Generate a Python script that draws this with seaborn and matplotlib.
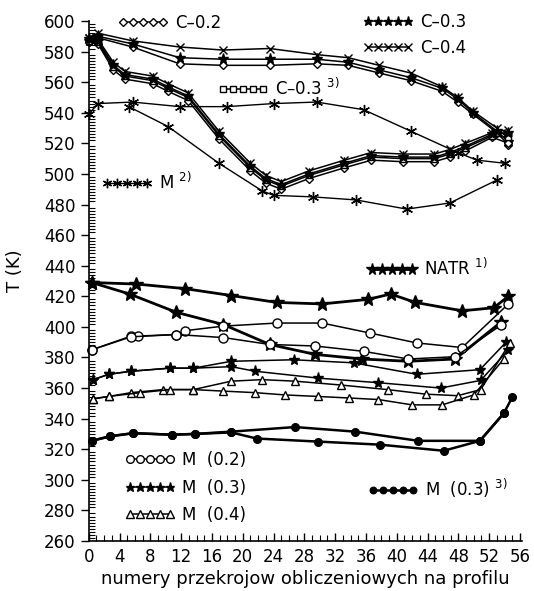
import pandas as pd
import matplotlib
matplotlib.use('Agg')
from matplotlib import pyplot as plt
from matplotlib.lines import Line2D
from matplotlib.ticker import MultipleLocator
import seaborn as sns

sns.set_style('ticks')
plt.rcParams['font.family'] = ['DejaVu Sans']
plt.rcParams['text.color'] = 'black'
plt.rcParams['axes.labelcolor'] = 'black'
plt.rcParams['xtick.color'] = 'black'
plt.rcParams['ytick.color'] = 'black'

# gorna grupa - przekroje C (dwa pasma)
ca_x = [0, 1.2, 5.7, 11.8, 17.4, 23.5, 29.6, 33.7, 37.7, 41.8, 45.9, 47.9, 49.9, 53.0, 54.5]
c02a_y = [586, 589, 583, 572, 571, 571, 572, 571, 566, 561, 554, 547, 539, 527, 519]
c03a_y = [587, 590, 585, 576, 575, 575, 575, 573, 568, 563, 556, 549, 540, 528, 521]
c04a_y = [589, 592, 587, 583, 581, 582, 578, 576, 571, 566, 557, 550, 541, 530, 523]

cb_x = [0, 1.2, 3.2, 4.7, 8.3, 10.3, 12.9, 16.9, 21.0, 23.0, 25.0, 28.6, 33.2, 36.7, 40.8, 44.9, 46.9, 48.9, 52.4, 54.5]
c02b_y = [586, 585, 568, 562, 559, 554, 548, 523, 502, 494, 490, 497, 504, 509, 508, 508, 511, 515, 524, 520]
c033_y = [587, 586, 570, 564, 561, 556, 550, 525, 504, 496, 492, 499, 506, 511, 510, 510, 513, 517, 525, 524]
c03b_y = [588, 587, 571, 565, 562, 557, 551, 526, 505, 497, 493, 500, 507, 512, 511, 511, 514, 518, 526, 527]
c04b_y = [589, 588, 573, 567, 564, 559, 553, 528, 507, 499, 495, 502, 509, 514, 513, 513, 516, 520, 527, 529]

# M 2)
m2a_x = [0, 1.2, 5.7, 11.8, 17.9, 24.0, 29.6, 35.7, 41.8, 47.9, 50.4, 54.0]
m2a_y = [539, 546, 547, 544, 544, 546, 547, 542, 528, 514, 509, 507]
m2b_x = [5.2, 10.3, 16.9, 22.5, 24.0, 29.1, 34.7, 41.3, 46.9, 53.0]
m2b_y = [544, 531, 507, 489, 486, 485, 483, 477, 481, 496]

# dolna grupa
natr_a_x = [0.4, 6.2, 12.5, 18.5, 24.4, 30.3, 36.3, 39.2, 42.4, 48.5, 52.6, 54.5]
natr_a_y = [429, 428, 425, 420.5, 416, 415, 418, 421.5, 416, 410.5, 412.5, 420]
natr_b_x = [0.4, 5.3, 11.4, 17.5, 23.5, 29.4, 35.5, 41.5, 47.6, 53.5]
natr_b_y = [429, 421.5, 409.5, 401.5, 388.5, 382, 379, 377.5, 379, 403]

m02a_x = [0.4, 5.5, 6.4, 11.4, 12.5, 17.5, 24.4, 30.3, 36.5, 42.6, 48.5, 54.5]
m02a_y = [385, 394, 394, 395, 397.5, 400.5, 402.5, 402.5, 396, 389.5, 386.5, 415]
m02b_x = [0.4, 5.5, 11.4, 17.5, 23.5, 29.4, 35.7, 41.5, 47.6, 53.5]
m02b_y = [385, 393.5, 395, 393, 388.5, 387.5, 384, 379, 380.5, 401]

m03a_x = [0.6, 2.6, 5.5, 10.5, 13.6, 18.5, 26.6, 34.4, 42.6, 50.8, 54.2]
m03a_y = [365.5, 369, 371, 373, 373, 377.5, 378.5, 376.5, 369, 372, 390]
m03b_x = [0.6, 2.6, 5.5, 10.5, 13.6, 18.5, 21.6, 29.8, 37.6, 45.7, 50.9, 54.5]
m03b_y = [365.5, 369, 371, 373, 373, 374, 371, 366.5, 363.5, 360, 365, 385]

m04a_x = [0.6, 2.6, 5.5, 9.7, 13.6, 18.5, 22.5, 26.8, 32.7, 38.8, 43.8, 47.9, 50.9, 54.7]
m04a_y = [353, 354.5, 357, 359, 359, 364.5, 365.5, 364.5, 362, 359, 356, 355, 359, 389.5]
m04b_x = [0.6, 2.6, 6.7, 10.6, 13.6, 17.5, 21.6, 25.5, 29.8, 33.8, 37.6, 42.0, 45.9, 50.0, 53.9]
m04b_y = [353, 354.5, 357, 359, 359, 358, 357, 355.5, 354.5, 353.5, 352.5, 349, 349, 355.5, 379]

m033a_x = [0.4, 2.8, 5.8, 10.8, 13.8, 18.5, 26.8, 34.6, 42.8, 50.8, 53.9, 55.0]
m033a_y = [325.5, 328.5, 330.5, 329.5, 330, 331.5, 334.5, 331.5, 325.5, 325.5, 343.5, 354]
m033b_x = [0.4, 2.8, 5.8, 10.8, 13.8, 18.5, 21.8, 29.8, 37.8, 46.1, 50.8, 53.9]
m033b_y = [325.5, 328.5, 330.5, 329.5, 330, 331, 327, 325, 323, 319, 325.5, 343.5]

styles = {
    'c02': dict(marker='D', ms=4.5, mfc='white', lw=1.1),
    'c03': dict(marker='*', ms=8, mfc='black', lw=1.1),
    'c04': dict(marker='x', ms=6, mfc='black', lw=1.1),
    'c033': dict(marker='s', ms=4.5, mfc='white', lw=1.1),
    'm2': dict(marker=(6, 2, 0), ms=8, mfc='black', lw=1.0),
    'natr': dict(marker='*', ms=10, mfc='black', lw=2.0),
    'm02': dict(marker='o', ms=6.5, mfc='white', lw=1.1),
    'm03': dict(marker='*', ms=8, mfc='black', lw=1.1),
    'm04': dict(marker='^', ms=6, mfc='white', lw=1.1),
    'm033': dict(marker='o', ms=5.5, mfc='black', lw=1.8),
}

curves = [
    (ca_x, c02a_y, 'c02'), (ca_x, c03a_y, 'c03'), (ca_x, c04a_y, 'c04'),
    (cb_x, c02b_y, 'c02'), (cb_x, c033_y, 'c033'), (cb_x, c03b_y, 'c03'), (cb_x, c04b_y, 'c04'),
    (m2a_x, m2a_y, 'm2'), (m2b_x, m2b_y, 'm2'),
    (natr_a_x, natr_a_y, 'natr'), (natr_b_x, natr_b_y, 'natr'),
    (m02a_x, m02a_y, 'm02'), (m02b_x, m02b_y, 'm02'),
    (m03a_x, m03a_y, 'm03'), (m03b_x, m03b_y, 'm03'),
    (m04a_x, m04a_y, 'm04'), (m04b_x, m04b_y, 'm04'),
    (m033a_x, m033a_y, 'm033'), (m033b_x, m033b_y, 'm033'),
]

fig = plt.figure(figsize=(5.34, 5.91), dpi=100)
ax = fig.add_axes([0.1661, 0.0846, 0.8105, 0.8799])

for xs, ys, key in curves:
    st = styles[key]
    df = pd.DataFrame({'x': xs, 'T': ys})
    sns.lineplot(data=df, x='x', y='T', ax=ax, color='black', estimator=None, sort=False,
                 lw=st['lw'], marker=st['marker'], markersize=st['ms'],
                 markerfacecolor=st['mfc'], markeredgecolor='black', markeredgewidth=1.0,
                 clip_on=False, legend=False)

ax.set_xlim(0, 56.2)
ax.set_ylim(260, 600)
ax.xaxis.set_major_locator(MultipleLocator(4))
ax.xaxis.set_minor_locator(MultipleLocator(1))
ax.yaxis.set_major_locator(MultipleLocator(20))
ax.yaxis.set_minor_locator(MultipleLocator(2))
ax.tick_params(axis='x', which='major', direction='in', length=6, width=1, labelsize=12, pad=5)
ax.tick_params(axis='x', which='minor', direction='in', length=4, width=0.8)
ax.tick_params(axis='y', which='major', direction='out', length=5.5, width=1, labelsize=12, pad=4)
ax.tick_params(axis='y', which='minor', direction='in', length=4, width=0.8)
for s in ['left', 'bottom']:
    ax.spines[s].set_linewidth(1.2)
    ax.spines[s].set_color('black')
sns.despine(ax=ax)

ax.set_xlabel('numery przekrojow obliczeniowych na profilu', fontsize=13)
ax.set_ylabel('T (K)', fontsize=13)
ax.xaxis.set_label_coords(0.5, -0.055)
ax.yaxis.set_label_coords(-0.15, 0.52)


def key_entry(key, label, fx, fy):
    st = styles[key]
    h = Line2D([], [], color='black', lw=st['lw'], marker=st['marker'], ms=st['ms'] * 0.85,
               mfc=st['mfc'], mec='black', mew=1.0)
    leg = ax.legend(handles=[h], labels=[label], loc='center left', bbox_to_anchor=(fx, fy),
                    frameon=False, numpoints=5, handlelength=3.0, handletextpad=0.4,
                    borderpad=0, borderaxespad=0, fontsize=12)
    ax.add_artist(leg)


key_entry('c02', 'C–0.2', 0.068, 0.996)
key_entry('c03', 'C–0.3', 0.634, 0.998)
key_entry('c04', 'C–0.4', 0.634, 0.948)
key_entry('c033', r'C–0.3 $^{3)}$', 0.299, 0.871)
key_entry('m2', r'M $^{2)}$', 0.031, 0.69)
key_entry('natr', r'NATR $^{1)}$', 0.643, 0.525)
key_entry('m02', 'M  (0.2)', 0.084, 0.156)
key_entry('m03', 'M  (0.3)', 0.084, 0.102)
key_entry('m04', 'M  (0.4)', 0.084, 0.05)
key_entry('m033', r'M  (0.3) $^{3)}$', 0.645, 0.102)
# ostatnia legenda jest juz dodana jako artist - nie rysowac jej drugi raz
ax.legend_ = None

fig.savefig('out.png', dpi=100)
